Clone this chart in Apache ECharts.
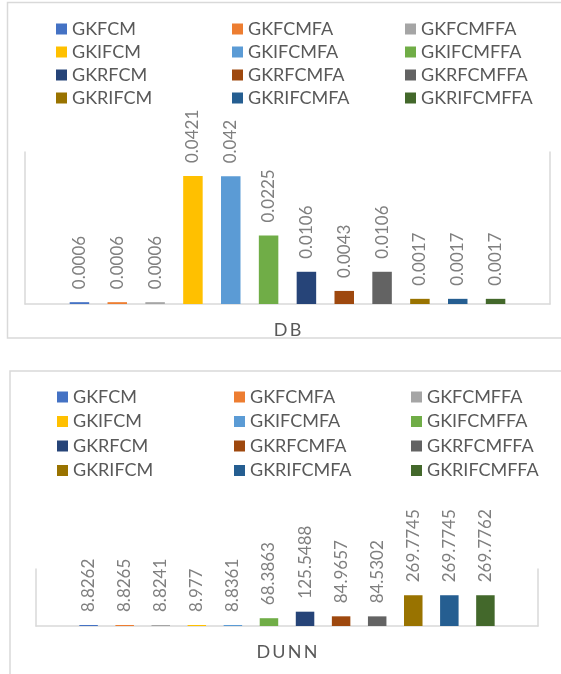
<!DOCTYPE html>
<html>
<head>
<meta charset="utf-8">
<script src="https://cdn.jsdelivr.net/npm/echarts@6/dist/echarts.min.js"></script>
<style>
  html, body { margin: 0; padding: 0; background: #fff; overflow: hidden; }
  #chart { width: 561px; height: 674px; }
</style>
</head>
<body>
<div id="chart"></div>
<script>
  // series names and colours (office palette)
  const seriesNames = [
    'GKFCM', 'GKFCMFA', 'GKFCMFFA',
    'GKIFCM', 'GKIFCMFA', 'GKIFCMFFA',
    'GKRFCM', 'GKRFCMFA', 'GKRFCMFFA',
    'GKRIFCM', 'GKRIFCMFA', 'GKRIFCMFFA'
  ]
  const seriesColors = [
    '#4472C4', '#ED7D31', '#A5A5A5',
    '#FFC000', '#5B9BD5', '#70AD47',
    '#264478', '#9E480E', '#636363',
    '#997300', '#255E91', '#43682B'
  ]
  const dbCategory = ['DB']
  const dbValues = [0.0006, 0.0006, 0.0006, 0.0421, 0.042, 0.0225, 0.0106, 0.0043, 0.0106, 0.0017, 0.0017, 0.0017]
  const dunnCategory = ['DUNN']
  const dunnValues = [8.8262, 8.8265, 8.8241, 8.977, 8.8361, 68.3863, 125.5488, 84.9657, 84.5302, 269.7745, 269.7745, 269.7762]

  const FONT = 'Lato, "Liberation Sans", sans-serif'
  const spaced = s => s.split('').join('\u2009')

  const chart = echarts.init(document.getElementById('chart'), null, { renderer: 'canvas' })

  // three legend columns per chart, 4 rows each
  function makeLegends(top, cols, gap) {
    return cols.map((left, c) => ({
      orient: 'vertical',
      left: left,
      top: top,
      icon: 'rect',
      itemWidth: 11,
      itemHeight: 11,
      itemGap: gap,
      selectedMode: false,
      textStyle: { color: '#595959', fontSize: 18, fontFamily: FONT, lineHeight: 18 },
      data: seriesNames.filter((n, i) => i % 3 === c)
    }))
  }

  function makeSeries(values, k, barWidth, barGap) {
    return values.map((v, i) => ({
      type: 'bar',
      name: seriesNames[i],
      xAxisIndex: k,
      yAxisIndex: k * 2,
      data: [v],
      barWidth: barWidth,
      barGap: barGap,
      itemStyle: { color: seriesColors[i] },
      label: {
        show: true,
        position: 'top',
        rotate: 90,
        align: 'left',
        verticalAlign: 'middle',
        distance: 13,
        color: '#7f7f7f',
        fontSize: 17,
        fontFamily: FONT
      }
    }))
  }

  const axisLineStyle = { show: true, lineStyle: { color: '#d9d9d9', width: 1.5 } }

  function yAxes(k, max) {
    return [
      { gridIndex: k, type: 'value', min: 0, max: max, axisLine: axisLineStyle, axisTick: { show: false },
        axisLabel: { show: false }, splitLine: { show: false } },
      { gridIndex: k, type: 'value', position: 'right', min: 0, max: max, axisLine: axisLineStyle, axisTick: { show: false },
        axisLabel: { show: false }, splitLine: { show: false } }
    ]
  }

  chart.setOption({
    animation: false,
    graphic: [
      { type: 'rect', shape: { x: 7.5, y: 2.5, width: 620, height: 335.5 }, style: { fill: null, stroke: '#d9d9d9', lineWidth: 1.5 }, silent: true },
      { type: 'rect', shape: { x: 10, y: 371, width: 620, height: 400 }, style: { fill: null, stroke: '#d9d9d9', lineWidth: 1.5 }, silent: true }
    ],
    legend: makeLegends(15, [51, 227, 400], 5).concat(makeLegends(383, [52, 229, 406], 6.5)),
    grid: [
      { left: 25, top: 152, width: 525, height: 152 },
      { left: 36, top: 569, width: 502, height: 57 }
    ],
    xAxis: [
      { gridIndex: 0, type: 'category', data: dbCategory, axisLine: axisLineStyle, axisTick: { show: false },
        axisLabel: { margin: 17, color: '#595959', fontSize: 18, fontFamily: FONT, formatter: spaced } },
      { gridIndex: 1, type: 'category', data: dunnCategory, axisLine: axisLineStyle, axisTick: { show: false },
        axisLabel: { margin: 17, color: '#595959', fontSize: 18, fontFamily: FONT, formatter: spaced } }
    ],
    yAxis: yAxes(0, 0.05).concat(yAxes(1, 500)),
    series: makeSeries(dbValues, 0, 19.5, '94%').concat(makeSeries(dunnValues, 1, 18.5, '95%'))
  })
</script>
</body>
</html>
